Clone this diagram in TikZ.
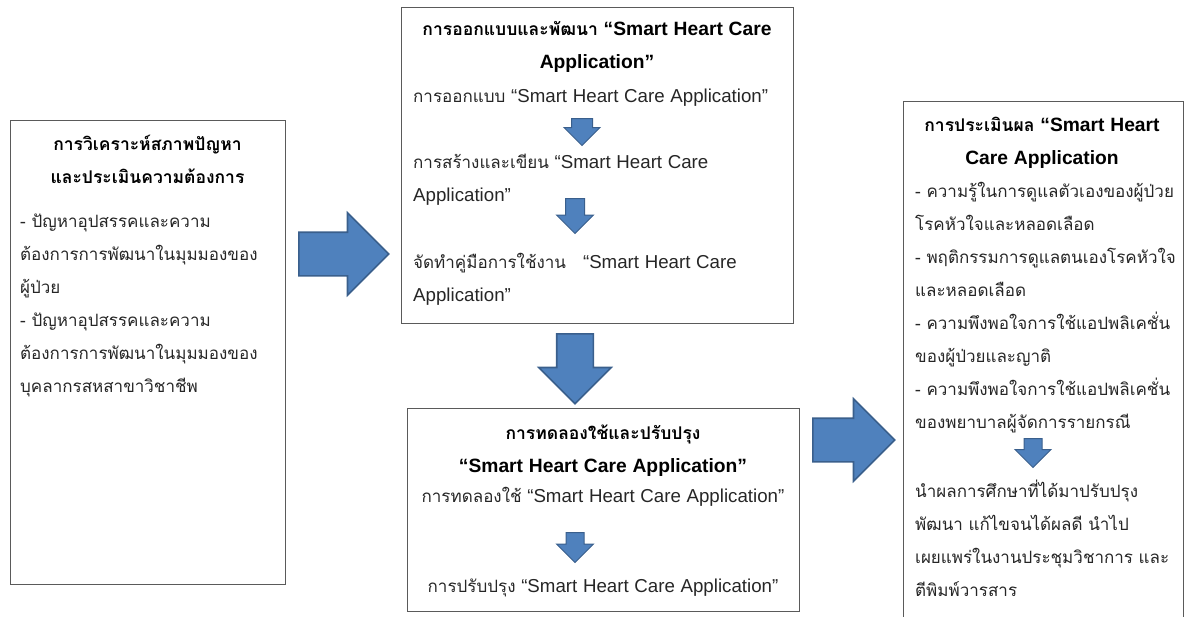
\documentclass[tikz,border=0pt]{standalone}
\usepackage{fontspec}
\setmainfont{Loma}[Script=Thai]
\newfontfamily\latinfont{Liberation Sans}[Scale=1.1]
\newcommand\eng[1]{{\latinfont #1}}
\usetikzlibrary{shapes.arrows}

\definecolor{arrowfill}{HTML}{4F81BD}
\definecolor{arrowline}{HTML}{3A5F8C}
\definecolor{boxline}{HTML}{5A5A5A}
\definecolor{bodygray}{HTML}{262626}

\tikzset{
  stagebox/.style={draw=boxline, line width=1.2pt, anchor=north west, inner sep=0pt},
  bigarrow/.style 2 args={single arrow, draw=arrowline, fill=arrowfill, line width=1.6pt,
    inner sep=0pt, inner ysep=#1, single arrow head extend=#2, anchor=tail},
  smallarrow/.style 2 args={single arrow, draw=arrowline, fill=arrowfill, line width=1pt,
    inner sep=0pt, inner ysep=#1, single arrow head extend=#2, anchor=tail},
  titletext/.style={anchor=base, align=center, inner sep=0pt,
    font=\fontsize{17.5}{33}\selectfont\bfseries},
  bodytext/.style={anchor=base west, align=left, inner sep=0pt, text width=380pt,
    text=bodygray, font=\fontsize{17}{33}\selectfont},
  centertext/.style={anchor=base, align=center, inner sep=0pt, text width=390pt,
    text=bodygray, font=\fontsize{17}{33}\selectfont}
}

\begin{document}
\begin{tikzpicture}[x=1pt, y=-1pt]
\useasboundingbox (0,0) rectangle (1188,616);

% Boxes
\node[stagebox, minimum width=275, minimum height=464] (analysis) at (10,120) {};
\node[stagebox, minimum width=392, minimum height=316] (design) at (401,7) {};
\node[stagebox, minimum width=392, minimum height=203] (trial) at (407,408) {};
\node[stagebox, minimum width=280, minimum height=530] (evaluate) at (903,101) {};

% Analysis
\node[titletext, text width=275] (analysistitle) at (147.5,150) {การวิเคราะห์สภาพปัญหา\\และประเมินความต้องการ};
\node[bodytext] (analysislist) at (20,227) {- ปัญหาอุปสรรคและความ\\ต้องการการพัฒนาในมุมมองของ\\ผู้ป่วย\\- ปัญหาอุปสรรคและความ\\ต้องการการพัฒนาในมุมมองของ\\บุคลากรสหสาขาวิชาชีพ};

% Design and development
\node[titletext, text width=392] (designtitle) at (597,35) {การออกแบบและพัฒนา \eng{“Smart Heart Care}\\\eng{Application”}};
\node[bodytext] (designa) at (413,102) {การออกแบบ \eng{“Smart Heart Care Application”}};
\node[bodytext] (designb) at (413,168) {การสร้างและเขียน \eng{“Smart Heart Care}\\\eng{Application”}};
\node[bodytext] (designc) at (413,268) {จัดทำคู่มือการใช้งาน\hspace{1em}\eng{“Smart Heart Care}\\\eng{Application”}};
\node[smallarrow={10}{7.5}, minimum height=27, minimum width=35, rotate=-90] (designarrowa) at (582,118) {};
\node[smallarrow={9}{9}, minimum height=35, minimum width=36, rotate=-90] (designarrowb) at (575,198) {};

% Trial and improvement
\node[titletext, text width=392] (trialtitle) at (603,439) {การทดลองใช้และปรับปรุง\\\eng{“Smart Heart Care Application”}};
\node[centertext] (triala) at (603,502) {การทดลองใช้ \eng{“Smart Heart Care Application”}};
\node[centertext] (trialb) at (603,592) {การปรับปรุง \eng{“Smart Heart Care Application”}};
\node[smallarrow={8.5}{9.5}, minimum height=30, minimum width=36, rotate=-90] (trialarrow) at (575,532) {};

% Evaluation
\node[titletext, text width=280] (evaluatetitle) at (1042,131) {การประเมินผล \eng{“Smart Heart}\\\eng{Care Application}};
\node[bodytext] (evaluatelist) at (915,197) {- ความรู้ในการดูแลตัวเองของผู้ป่วย\\โรคหัวใจและหลอดเลือด\\- พฤติกรรมการดูแลตนเองโรคหัวใจ\\และหลอดเลือด\\- ความพึงพอใจการใช้แอปพลิเคชั่น\\ของผู้ป่วยและญาติ\\- ความพึงพอใจการใช้แอปพลิเคชั่น\\ของพยาบาลผู้จัดการรายกรณี};
\node[bodytext] (evaluatenext) at (915,497) {นำผลการศึกษาที่ได้มาปรับปรุง\\พัฒนา แก้ไขจนได้ผลดี นำไป\\เผยแพร่ในงานประชุมวิชาการ และ\\ตีพิมพ์วารสาร};
\node[smallarrow={8.5}{9}, minimum height=29, minimum width=35, rotate=-90] (evaluatearrow) at (1033,438) {};

% Block arrows between stages
\node[bigarrow={21}{19.5}, minimum height=90, minimum width=81] (toDesign) at (298,254) {};
\node[bigarrow={17.5}{18}, minimum height=70, minimum width=71, rotate=-90] (toTrial) at (575,333) {};
\node[bigarrow={21}{19.5}, minimum height=82, minimum width=81] (toEvaluate) at (812,440) {};

\end{tikzpicture}
\end{document}
